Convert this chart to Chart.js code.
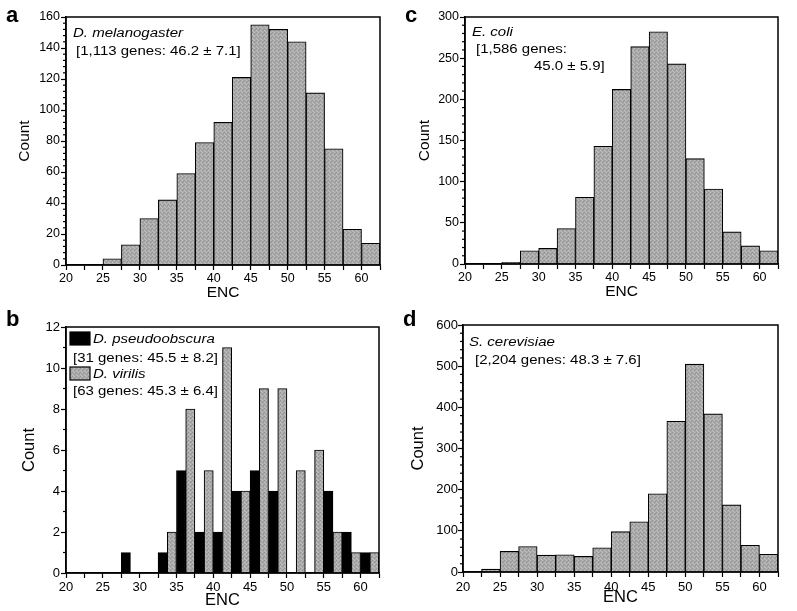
<!DOCTYPE html>
<html>
	<head>
		<title>ENC histograms</title>
		<style type="text/css">
			body{ margin: 0; background: #fff; }
			#fig{ position: relative; width: 797px; height: 611px; overflow: hidden; }
			.panel{ position: absolute; }
			.panel canvas{ display: block; }
			.tag{ position: absolute; font: bold 22px "Liberation Sans", Arial, sans-serif; line-height: 1; color: #000; }
		</style>
	</head>
	<body>
		<script type="text/javascript" src="https://cdn.jsdelivr.net/npm/chart.js@4.4.0/dist/chart.umd.min.js"></script>

		<div id="fig">
			<div class="panel" style="left:0px;top:0px"><canvas id="chartA" width="400" height="300"></canvas></div>
			<div class="panel" style="left:400px;top:0px"><canvas id="chartC" width="397" height="300"></canvas></div>
			<div class="panel" style="left:0px;top:300px"><canvas id="chartB" width="400" height="311"></canvas></div>
			<div class="panel" style="left:400px;top:300px"><canvas id="chartD" width="397" height="311"></canvas></div>
			<div class="tag" style="left:6px;top:4px">a</div>
			<div class="tag" style="left:405px;top:4px">c</div>
			<div class="tag" style="left:6px;top:308px">b</div>
			<div class="tag" style="left:403px;top:308px">d</div>
		</div>

		<script type="text/javascript">
			// ENC bins, 2.5 wide, starting at these values
			var binStart = [20, 22.5, 25, 27.5, 30, 32.5, 35, 37.5, 40, 42.5, 45, 47.5, 50, 52.5, 55, 57.5, 60];
			var binWidth = 2.5;

			// counts per bin
			var melanogaster = [0, 0, 4, 13, 30, 42, 59, 79, 92, 121, 155, 152, 144, 111, 75, 23, 14];
			var ecoli = [0, 0, 2, 16, 19, 43, 81, 143, 212, 264, 282, 243, 128, 91, 39, 22, 16];
			var pseudoobscura = [0, 0, 0, 1, 0, 1, 5, 2, 2, 4, 5, 4, 0, 0, 4, 2, 1];
			var virilis = [0, 0, 0, 0, 0, 2, 8, 5, 11, 4, 9, 9, 5, 6, 2, 1, 1];
			var cerevisiae = [0, 7, 50, 62, 41, 42, 38, 59, 98, 122, 190, 366, 505, 384, 163, 65, 43];

			var fontFamily = '"Liberation Sans", Arial, Helvetica, sans-serif';

			// grey halftone look of the printed bars
			function stipple(){
				var c = document.createElement('canvas');
				c.width = 4; c.height = 4;
				var g = c.getContext('2d');
				g.fillStyle = '#aaaaaa'; g.fillRect(0, 0, 4, 4);
				g.fillStyle = '#949494'; g.fillRect(0, 0, 1, 1); g.fillRect(2, 2, 1, 1); g.fillRect(3, 1, 1, 1);
				g.fillStyle = '#c0c0c0'; g.fillRect(2, 0, 1, 1); g.fillRect(0, 2, 1, 1); g.fillRect(1, 3, 1, 1);
				return g.createPattern(c, 'repeat');
			}
			var grey = stipple();

			// box round the plot area
			var framePlugin = {
				id: 'frame',
				afterDatasetsDraw: function(chart){
					var a = chart.chartArea, ctx = chart.ctx;
					ctx.save();
					ctx.strokeStyle = '#000';
					ctx.lineWidth = 1.5;
					ctx.strokeRect(a.left, a.top, a.right - a.left, a.bottom - a.top);
					ctx.restore();
				}
			};

			// small ticks between the labelled ones on the count axis
			function minorTicks(step, major){
				return {
					id: 'minorTicks',
					afterDraw: function(chart){
						var s = chart.scales.y, ctx = chart.ctx;
						ctx.save();
						ctx.strokeStyle = '#000';
						ctx.lineWidth = 1.2;
						for(var v = s.min; v <= s.max; v += step){
							if(Math.abs(v / major - Math.round(v / major)) < 1e-6) continue;
							var y = s.getPixelForValue(v);
							ctx.beginPath();
							ctx.moveTo(s.right - 3, y);
							ctx.lineTo(s.right, y);
							ctx.stroke();
						}
						ctx.restore();
					}
				};
			}

			// species names, gene counts and the legend boxes of panel b
			function notes(items){
				return {
					id: 'notes',
					afterDraw: function(chart){
						var ctx = chart.ctx;
						items.forEach(function(n){
							ctx.save();
							if(n.swatch !== undefined){
								ctx.fillStyle = chart.data.datasets[n.swatch].backgroundColor;
								ctx.fillRect(n.x, n.y, n.w, n.h);
								ctx.strokeStyle = '#000';
								ctx.lineWidth = 1.2;
								ctx.strokeRect(n.x, n.y, n.w, n.h);
							}else{
								ctx.fillStyle = '#000';
								ctx.textBaseline = 'middle';
								ctx.font = (n.italic ? 'italic ' : '') + '12px ' + fontFamily;
								ctx.translate(n.x, n.y);
								ctx.scale(1.25, 1);
								ctx.fillText(n.text, 0, 0);
							}
							ctx.restore();
						});
					}
				};
			}

			function histChart(id, p){
				var datasets = p.series.map(function(s){
					return {
						label: s.label,
						data: binStart.map(function(b, i){ return {x: b + binWidth / 2, y: s.values[i]}; }),
						backgroundColor: s.fill,
						borderColor: '#000',
						borderWidth: 1.1,
						borderSkipped: 'bottom',
						barPercentage: 1,
						categoryPercentage: 1
					};
				});

				return new Chart(document.getElementById(id), {
					type: 'bar',
					data: {datasets: datasets},
					options: {
						responsive: false,
						animation: false,
						events: [],
						layout: {padding: p.pad},
						plugins: {legend: {display: false}, tooltip: {enabled: false}},
						scales: {
							x: {
								type: 'linear',
								min: 20,
								max: 62.5,
								offset: false,
								grid: {offset: false, drawOnChartArea: false, color: '#000', tickLength: 5, tickWidth: 1.2},
								border: {color: '#000', width: 1.5},
								ticks: {
									stepSize: 2.5,
									autoSkip: false,
									maxRotation: 0,
									padding: p.xPad,
									color: '#000',
									font: {family: fontFamily, size: p.tick, lineHeight: 1},
									callback: function(v){ return v % 5 === 0 ? String(v) : ''; }
								},
								title: {display: true, text: 'ENC', color: '#000', font: {family: fontFamily, size: p.title, lineHeight: 1}, padding: {top: 0, bottom: p.encPad}},
								afterFit: function(s){ s.height = p.xH; }
							},
							y: {
								min: 0,
								max: p.yMax,
								grid: {drawOnChartArea: false, color: '#000', tickLength: 5, tickWidth: 1.2},
								border: {color: '#000', width: 1.5},
								ticks: {stepSize: p.yMajor, padding: p.yPad, color: '#000', font: {family: fontFamily, size: p.tick}},
								title: {display: true, text: 'Count', color: '#000', font: {family: fontFamily, size: p.title, lineHeight: 1}, padding: {top: p.countPad, bottom: 0}},
								afterFit: function(s){ s.width = p.yW; }
							}
						}
					},
					plugins: [framePlugin, minorTicks(p.yMinor, p.yMajor), notes(p.notes)]
				});
			}

			histChart('chartA', {
				series: [{label: 'D. melanogaster', values: melanogaster, fill: grey}],
				pad: {left: 0, top: 17, right: 20, bottom: 0},
				yW: 66, xH: 35, yMax: 160, yMajor: 20, yMinor: 4,
				tick: 12.5, title: 15.5, xPad: 2, yPad: 1, encPad: 0, countPad: 17,
				notes: [
					{text: 'D. melanogaster', italic: true, x: 73, y: 34},
					{text: '[1,113 genes: 46.2 \u00b1 7.1]', x: 76, y: 52}
				]
			});

			histChart('chartC', {
				series: [{label: 'E. coli', values: ecoli, fill: grey}],
				pad: {left: 0, top: 17, right: 19, bottom: 0},
				yW: 65, xH: 36, yMax: 300, yMajor: 50, yMinor: 10,
				tick: 12.5, title: 15.5, xPad: 2, yPad: 1, encPad: 1, countPad: 17,
				notes: [
					{text: 'E. coli', italic: true, x: 72, y: 33},
					{text: '[1,586 genes:', x: 76, y: 50},
					{text: '45.0 \u00b1 5.9]', x: 134, y: 67}
				]
			});

			histChart('chartB', {
				series: [
					{label: 'D. pseudoobscura', values: pseudoobscura, fill: '#000'},
					{label: 'D. virilis', values: virilis, fill: grey}
				],
				pad: {left: 0, top: 27, right: 21, bottom: 0},
				yW: 66, xH: 38, yMax: 12, yMajor: 2, yMinor: 1,
				tick: 13, title: 16.5, xPad: 3, yPad: 1, encPad: 2, countPad: 21,
				notes: [
					{swatch: 0, x: 70, y: 32, w: 20, h: 13},
					{text: 'D. pseudoobscura', italic: true, x: 93, y: 40},
					{text: '[31 genes: 45.5 \u00b1 8.2]', x: 73, y: 59},
					{swatch: 1, x: 70, y: 67, w: 20, h: 13},
					{text: 'D. virilis', italic: true, x: 93, y: 75},
					{text: '[63 genes: 45.3 \u00b1 6.4]', x: 73, y: 92}
				]
			});

			histChart('chartD', {
				series: [{label: 'S. cerevisiae', values: cerevisiae, fill: grey}],
				pad: {left: 0, top: 25, right: 19, bottom: 0},
				yW: 63, xH: 39, yMax: 600, yMajor: 100, yMinor: 20,
				tick: 13, title: 16.5, xPad: 4, yPad: 0, encPad: 5, countPad: 10,
				notes: [
					{text: 'S. cerevisiae', italic: true, x: 69, y: 43},
					{text: '[2,204 genes: 48.3 \u00b1 7.6]', x: 75, y: 61}
				]
			});
		</script>
	</body>
</html>
